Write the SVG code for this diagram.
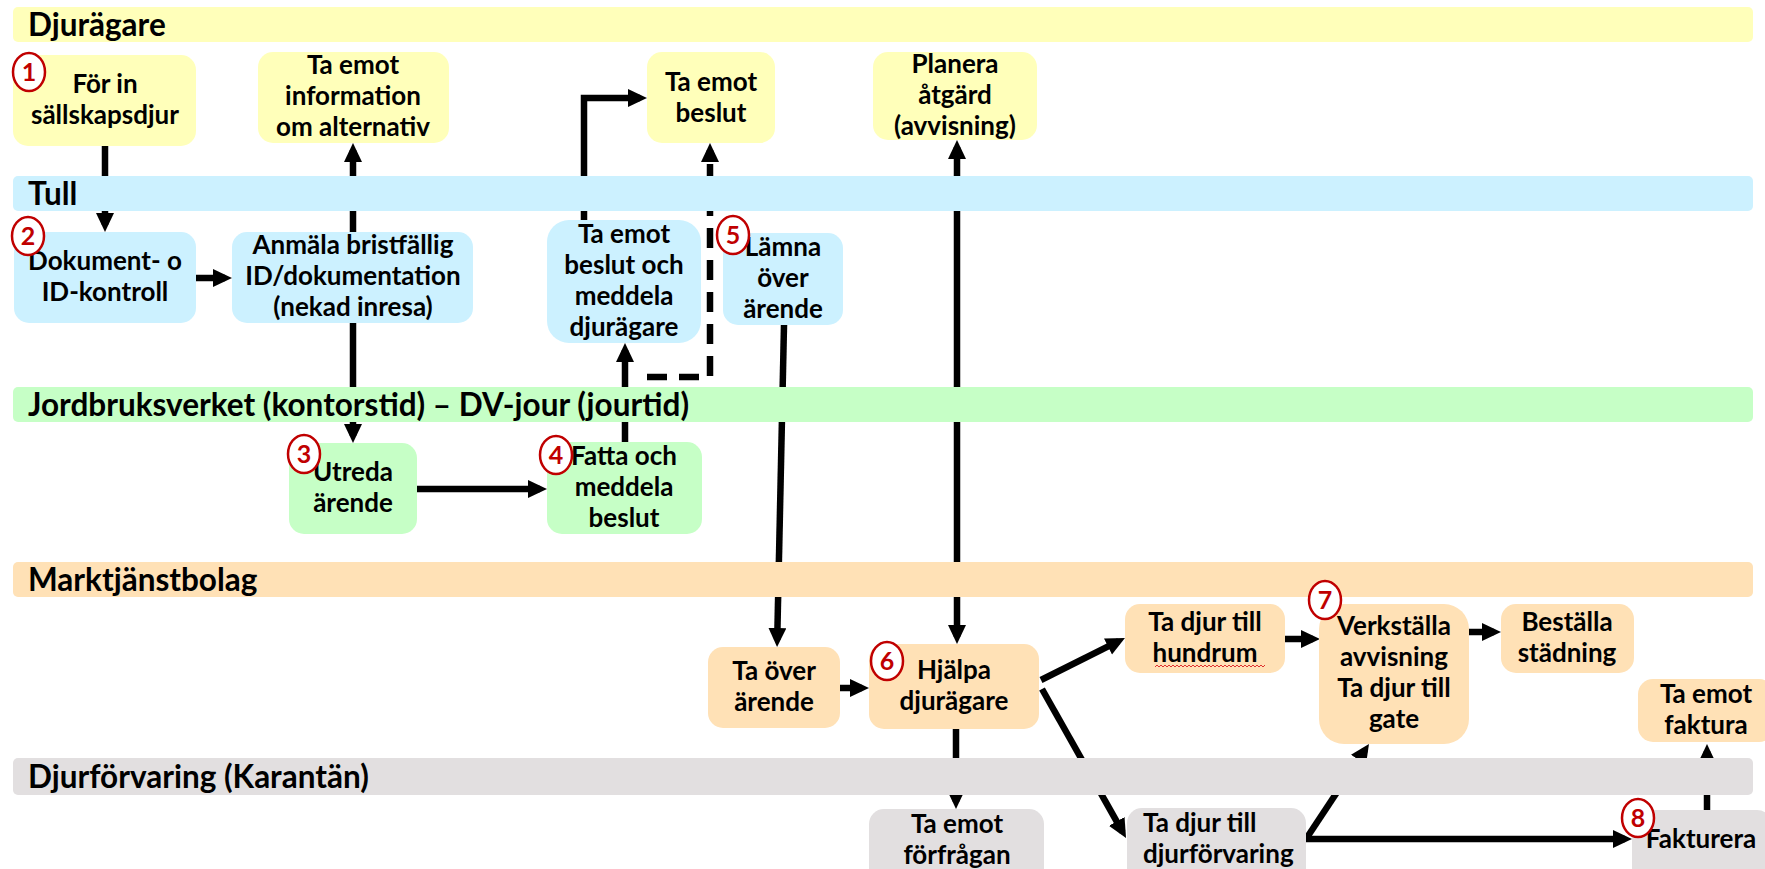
<svg xmlns="http://www.w3.org/2000/svg" width="1765" height="869" viewBox="0 0 1765 869">
<style>
.lane{stroke:none}
.ll{font-family:Lato,"Liberation Sans",sans-serif;font-weight:bold;font-size:31.5px;fill:#000}
.t{font-family:Lato,"Liberation Sans",sans-serif;font-weight:bold;font-size:26px;fill:#000;text-anchor:middle}
.tl{font-family:Lato,"Liberation Sans",sans-serif;font-weight:bold;font-size:26px;fill:#000}
.y{fill:#FFFFBA}.b{fill:#CCF1FF}.g{fill:#C6FFC6}.o{fill:#FFE1B6}.gr{fill:#E2DFE0}
.c{fill:#FFFFFF;stroke:#C00000;stroke-width:2.5}
.n{font-family:Lato,"Liberation Sans",sans-serif;font-weight:bold;font-size:25px;fill:#C00000;text-anchor:middle}
.ln{fill:none;stroke:#000;stroke-width:6.5}
.a{marker-end:url(#ah)}
.dash{stroke-dasharray:20 12}
</style>
<defs>
<marker id="ah" markerUnits="userSpaceOnUse" markerWidth="20" markerHeight="19" refX="12" refY="9" orient="auto-start-reverse">
<path d="M0,0 L19,9 L0,18 Z" fill="#000"/>
</marker>
</defs>
<g id="connectors">
<path class="ln a" d="M105 146 V225"/>
<path class="ln a" d="M196 278 H225"/>
<path class="ln a" d="M353 232 V150"/>
<path class="ln a" d="M353 323 V436"/>
<path class="ln a" d="M417 489 H540"/>
<path class="ln a" d="M625 442 V350"/>
<path class="ln a dash" d="M647 377 H710 V150"/>
<path class="ln a" d="M584 220 V98 H640"/>
<path class="ln a" d="M784 325 L777.2 640"/>
<path class="ln a" d="M957 147 V637" marker-start="url(#ah)"/>
<path class="ln a" d="M840 688 H862"/>
<path class="ln a" d="M956 729 V802"/>
<path class="ln a" d="M1041 680 L1118.7 641.1"/>
<path class="ln a" d="M1042 689 L1122.6 831.9"/>
<path class="ln a" d="M1285 639 H1313"/>
<path class="ln a" d="M1469 632 H1494"/>
<path class="ln a" d="M1306 839 L1365.1 749.8"/>
<path class="ln a" d="M1306 839 H1625"/>
<path class="ln a" d="M1707 810 V751"/>
</g>
<g id="lanes">
<g id="lane-djuragare"><rect class="y" x="13" y="7" width="1740" height="35" rx="5"/><text class="ll" x="28" y="36">Djurägare</text></g>
<g id="lane-tull"><rect class="b" x="13" y="176" width="1740" height="35" rx="5"/><text class="ll" x="28" y="205">Tull</text></g>
<g id="lane-jordbruk"><rect class="g" x="13" y="387" width="1740" height="35" rx="5"/><text class="ll" x="28" y="416">Jordbruksverket (kontorstid) – DV-jour (jourtid)</text></g>
<g id="lane-markt"><rect class="o" x="13" y="562" width="1740" height="35" rx="5"/><text class="ll" x="28" y="591">Marktjänstbolag</text></g>
<g id="lane-djurforv"><rect class="gr" x="13" y="758" width="1740" height="37" rx="5"/><text class="ll" x="28" y="788">Djurförvaring (Karantän)</text></g>
</g>
<g id="n1"><rect class="y" x="13" y="55" width="183" height="91" rx="15"/><text class="t" x="105" y="93">För in</text><text class="t" x="105" y="124">sällskapsdjur</text></g>
<g id="n-info"><rect class="y" x="258" y="52" width="191" height="91" rx="15"/><text class="t" x="353" y="74">Ta emot</text><text class="t" x="353" y="105">information</text><text class="t" x="353" y="136">om alternativ</text></g>
<g id="n-beslut"><rect class="y" x="647" y="52" width="128" height="91" rx="15"/><text class="t" x="711" y="91">Ta emot</text><text class="t" x="711" y="122">beslut</text></g>
<g id="n-planera"><rect class="y" x="873" y="52" width="164" height="88" rx="15"/><text class="t" x="955" y="73">Planera</text><text class="t" x="955" y="104">åtgärd</text><text class="t" x="955" y="135">(avvisning)</text></g>
<g id="n2"><rect class="b" x="14" y="232" width="182" height="91" rx="15"/><text class="t" x="105" y="270">Dokument- o</text><text class="t" x="105" y="301">ID-kontroll</text></g>
<g id="n-anmala"><rect class="b" x="232" y="232" width="241" height="91" rx="15"/><text class="t" x="353" y="254">Anmäla bristfällig</text><text class="t" x="353" y="285">ID/dokumentation</text><text class="t" x="353" y="316">(nekad inresa)</text></g>
<g id="n-meddela"><rect class="b" x="547" y="220" width="154" height="123" rx="22"/><text class="t" x="624" y="243">Ta emot</text><text class="t" x="624" y="274">beslut och</text><text class="t" x="624" y="305">meddela</text><text class="t" x="624" y="336">djurägare</text></g>
<g id="n5"><rect class="b" x="723" y="233" width="120" height="92" rx="15"/><text class="t" x="783" y="256">Lämna</text><text class="t" x="783" y="287">över</text><text class="t" x="783" y="318">ärende</text></g>
<g id="n3"><rect class="g" x="289" y="443" width="128" height="91" rx="15"/><text class="t" x="353" y="481">Utreda</text><text class="t" x="353" y="512">ärende</text></g>
<g id="n4"><rect class="g" x="547" y="442" width="155" height="92" rx="15"/><text class="t" x="624" y="465">Fatta och</text><text class="t" x="624" y="496">meddela</text><text class="t" x="624" y="527">beslut</text></g>
<g id="n-taover"><rect class="o" x="708" y="647" width="132" height="81" rx="15"/><text class="t" x="774" y="680">Ta över</text><text class="t" x="774" y="711">ärende</text></g>
<g id="n6"><rect class="o" x="869" y="644" width="170" height="85" rx="15"/><text class="t" x="954" y="679">Hjälpa</text><text class="t" x="954" y="710">djurägare</text></g>
<g id="n-hundrum"><rect class="o" x="1125" y="604" width="160" height="69" rx="15"/><text class="t" x="1205" y="631">Ta djur till</text><text class="t" x="1205" y="662">hundrum</text><path d="M1155 667 l2 -2 l2 2 l2 -2 l2 2 l2 -2 l2 2 l2 -2 l2 2 l2 -2 l2 2 l2 -2 l2 2 l2 -2 l2 2 l2 -2 l2 2 l2 -2 l2 2 l2 -2 l2 2 l2 -2 l2 2 l2 -2 l2 2 l2 -2 l2 2 l2 -2 l2 2 l2 -2 l2 2 l2 -2 l2 2 l2 -2 l2 2 l2 -2 l2 2 l2 -2 l2 2 l2 -2 l2 2 l2 -2 l2 2 l2 -2 l2 2 l2 -2 l2 2 l2 -2 l2 2 l2 -2 l2 2 l2 -2 l2 2 l2 -2 l2 2 l2 -2" fill="none" stroke="#E03030" stroke-width="1"/></g>
<g id="n7"><rect class="o" x="1319" y="604" width="150" height="140" rx="25"/><text class="t" x="1394" y="635">Verkställa</text><text class="t" x="1394" y="666">avvisning</text><text class="t" x="1394" y="697">Ta djur till</text><text class="t" x="1394" y="728">gate</text></g>
<g id="n-stadning"><rect class="o" x="1501" y="604" width="133" height="69" rx="15"/><text class="t" x="1567" y="631">Beställa</text><text class="t" x="1567" y="662">städning</text></g>
<g id="n-faktura"><rect class="o" x="1638" y="679" width="136" height="63" rx="15"/><text class="t" x="1706" y="703">Ta emot</text><text class="t" x="1706" y="734">faktura</text></g>
<g id="n-forfragan"><rect class="gr" x="869" y="809" width="175" height="90" rx="15"/><text class="t" x="957" y="833">Ta emot</text><text class="t" x="957" y="864">förfrågan</text></g>
<g id="n-djurforv"><rect class="gr" x="1127" y="808" width="179" height="90" rx="15"/><text class="tl" x="1143" y="832">Ta djur till</text><text class="tl" x="1143" y="863">djurförvaring</text></g>
<g id="n8"><rect class="gr" x="1632" y="810" width="140" height="90" rx="15"/><text class="t" x="1701" y="848">Fakturera</text></g>
<g id="badges">
<g id="b1"><ellipse class="c" cx="29" cy="72" rx="16" ry="19"/><text class="n" x="29" y="81">1</text></g>
<g id="b2"><ellipse class="c" cx="28" cy="236" rx="16" ry="19"/><text class="n" x="28" y="245">2</text></g>
<g id="b3"><ellipse class="c" cx="304" cy="454" rx="16" ry="19"/><text class="n" x="304" y="463">3</text></g>
<g id="b4"><ellipse class="c" cx="556" cy="455" rx="16" ry="19"/><text class="n" x="556" y="464">4</text></g>
<g id="b5"><ellipse class="c" cx="733" cy="235" rx="16" ry="19"/><text class="n" x="733" y="244">5</text></g>
<g id="b6"><ellipse class="c" cx="887" cy="661" rx="16" ry="19"/><text class="n" x="887" y="670">6</text></g>
<g id="b7"><ellipse class="c" cx="1325" cy="600" rx="16" ry="19"/><text class="n" x="1325" y="609">7</text></g>
<g id="b8"><ellipse class="c" cx="1638" cy="818" rx="16" ry="19"/><text class="n" x="1638" y="827">8</text></g>
</g>
</svg>
